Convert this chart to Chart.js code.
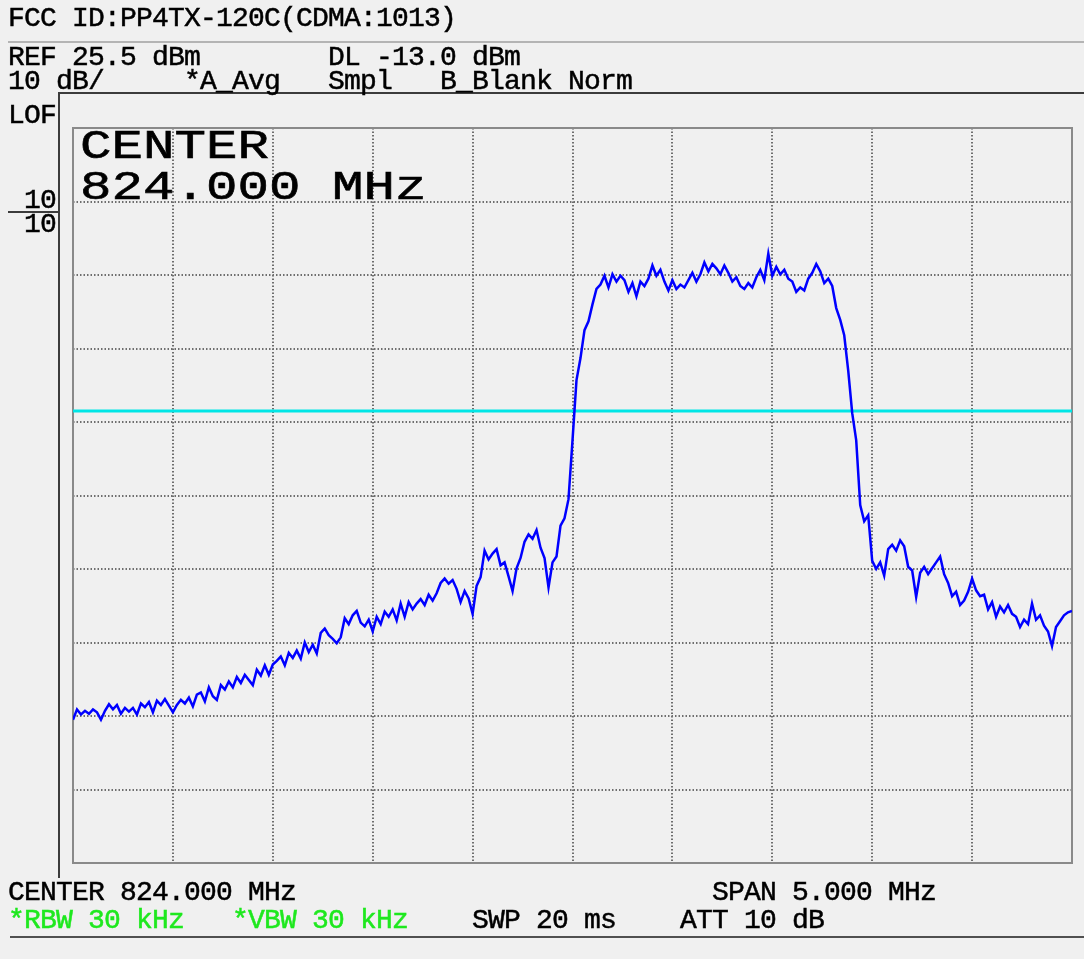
<!DOCTYPE html>
<html><head><meta charset="utf-8">
<script src="https://cdn.jsdelivr.net/npm/chart.js@4.4.1/dist/chart.umd.min.js"></script>
<style>
html,body{margin:0;padding:0;background:#f0f0f0;width:1084px;height:959px;overflow:hidden;}
#wrap{position:absolute;left:0;top:0;width:1084px;height:959px;}
canvas{position:absolute;left:0;top:0;}
.t{position:absolute;font-family:"Liberation Mono",monospace;font-size:28px;line-height:28px;color:#000;white-space:pre;letter-spacing:-0.8px;-webkit-text-stroke:0.5px #000;}
.g{color:#1ee81e;-webkit-text-stroke:0.5px #1ee81e;}
.big{position:absolute;font-family:"Liberation Mono",monospace;font-size:41px;line-height:41px;color:#000;white-space:pre;transform-origin:0 0;transform:scaleX(1.28);-webkit-text-stroke:0.6px #000;}
.ln{position:absolute;}
</style></head><body>
<div id="wrap">
<canvas id="c" width="1084" height="959"></canvas>

<div class="ln" style="left:8px;top:41px;width:1076px;height:2px;background:#b4b4b4;"></div>
<div class="ln" style="left:59px;top:92px;width:1025px;height:2px;background:#3c3c3c;"></div>
<div class="ln" style="left:58px;top:92px;width:2px;height:786px;background:#3c3c3c;"></div>
<div class="ln" style="left:8px;top:211px;width:51px;height:2px;background:#3c3c3c;"></div>
<div class="ln" style="left:10px;top:936px;width:1074px;height:2px;background:#505050;"></div>

<div class="t" style="left:8px;top:5px;">FCC ID:PP4TX-120C(CDMA:1013)</div>
<div class="t" style="left:8px;top:44px;">REF 25.5 dBm</div>
<div class="t" style="left:328px;top:44px;">DL -13.0 dBm</div>
<div class="t" style="left:8px;top:68px;">10 dB/</div>
<div class="t" style="left:184px;top:68px;">*A_Avg</div>
<div class="t" style="left:328px;top:68px;">Smpl</div>
<div class="t" style="left:440px;top:68px;">B_Blank Norm</div>
<div class="t" style="left:8px;top:102px;">LOF</div>
<div class="t" style="left:24px;top:187px;">10</div>
<div class="t" style="left:24px;top:211px;">10</div>

<div class="big" style="left:80px;top:127px;">CENTER</div>
<div class="big" style="left:80px;top:168px;">824.000 MHz</div>

<div class="t" style="left:8px;top:879px;">CENTER 824.000 MHz</div>
<div class="t" style="left:712px;top:879px;">SPAN 5.000 MHz</div>
<div class="t g" style="left:8px;top:907px;">*RBW 30 kHz</div>
<div class="t g" style="left:232px;top:907px;">*VBW 30 kHz</div>
<div class="t" style="left:472px;top:907px;">SWP 20 ms</div>
<div class="t" style="left:680px;top:907px;">ATT 10 dB</div>
</div>
<script>
// Sweep settings (MHz)
const sweepStartMHz = 821.5;
const sweepStopMHz = 826.5;
// Reference level and display line (dBm)
const refLevelDbm = 25.5;
const bottomLevelDbm = -74.5;
const displayLineDbm = -13.0;
// Grid (tick) positions
const freqGridMHz = [821.5, 822.0, 822.5, 823.0, 823.5, 824.0, 824.5, 825.0, 825.5, 826.0, 826.5];
const levelGridDbm = [-74.5, -64.5, -54.5, -44.5, -34.5, -24.5, -14.5, -4.5, 5.5, 15.5, 25.5];
// Trace A (average), dBm, equally spaced points across the span
const traceDbm = [
-55.0,-53.6,-54.3,-53.8,-54.2,-53.6,-54.0,-55.0,-53.8,-52.9,
-53.6,-53.0,-54.2,-53.4,-53.9,-53.4,-54.3,-52.8,-53.3,-52.6,
-54.0,-52.4,-53.0,-52.2,-53.1,-54.0,-53.0,-52.3,-52.8,-52.0,
-53.2,-51.6,-51.3,-52.5,-50.6,-51.8,-52.3,-50.3,-50.9,-49.8,
-50.6,-49.2,-50.0,-48.9,-49.6,-50.3,-48.2,-49.0,-47.6,-48.9,
-47.5,-47.0,-46.4,-47.6,-45.9,-46.6,-45.6,-46.7,-44.5,-45.8,
-44.8,-46.0,-43.2,-42.6,-43.5,-44.0,-44.6,-43.8,-41.2,-42.0,
-40.8,-40.2,-41.8,-42.3,-41.4,-43.0,-41.0,-42.0,-40.3,-41.0,
-40.0,-41.5,-39.2,-41.0,-39.0,-40.0,-39.2,-38.6,-39.4,-38.0,
-38.8,-37.8,-36.4,-35.8,-36.5,-36.0,-37.2,-39.0,-37.5,-38.5,
-40.6,-36.8,-35.6,-32.0,-33.2,-32.4,-31.8,-34.0,-33.6,-35.5,
-37.5,-34.4,-33.0,-30.8,-29.8,-30.4,-29.2,-31.6,-33.0,-37.0,
-33.6,-32.8,-28.6,-27.6,-25.0,-17.0,-8.8,-5.8,-2.0,-0.8,
1.5,3.6,4.2,5.4,3.8,5.6,4.6,5.4,4.8,3.2,
4.4,2.6,4.6,4.0,5.0,6.8,5.4,6.2,4.6,3.4,
4.8,3.6,4.2,3.8,4.8,5.8,4.6,5.6,7.2,6.0,
7.0,6.4,5.6,6.8,5.8,4.6,5.2,4.0,3.6,4.4,
3.8,5.2,6.2,4.8,8.4,5.4,6.6,5.6,6.2,5.0,
4.6,3.2,3.8,3.4,5.0,5.8,7.0,6.0,4.4,5.0,
4.0,1.0,-0.6,-2.7,-7.5,-13.3,-17.0,-25.8,-28.0,-27.2,
-33.4,-34.5,-33.6,-35.4,-31.8,-31.2,-32.0,-30.6,-31.4,-34.2,
-34.7,-38.3,-35.0,-34.2,-35.2,-34.4,-33.6,-32.8,-35.2,-36.4,
-38.2,-37.6,-39.4,-38.8,-37.6,-35.8,-37.4,-38.2,-38.0,-40.0,
-39.0,-41.0,-39.6,-40.4,-39.4,-40.6,-41.0,-42.4,-41.4,-42.0,
-39.2,-41.4,-40.8,-42.2,-43.0,-45.0,-42.4,-41.6,-40.8,-40.4,
-40.2
];

const stepMHz = (sweepStopMHz - sweepStartMHz) / (traceDbm.length - 1);
const tracePoints = traceDbm.map((v, i) => ({x: sweepStartMHz + i * stepMHz, y: v}));
const dlPoints = [{x: sweepStartMHz, y: displayLineDbm}, {x: sweepStopMHz, y: displayLineDbm}];

const boxPlugin = {
  id: 'box',
  beforeDatasetsDraw(chart) {
    const a = chart.chartArea, ctx = chart.ctx;
    ctx.save();
    ctx.strokeStyle = '#8a8a8a';
    ctx.lineWidth = 2;
    ctx.strokeRect(a.left, a.top, a.right - a.left, a.bottom - a.top);
    ctx.restore();
  }
};

const gridOpts = {
  display: true,
  drawTicks: false,
  color: '#6e6e6e',
  lineWidth: 2
};

new Chart(document.getElementById('c'), {
  type: 'line',
  data: {
    datasets: [
      {data: dlPoints, borderColor: '#00e6e6', borderWidth: 3, pointRadius: 0, order: 2},
      {data: tracePoints, borderColor: '#0000ff', borderWidth: 2.5, pointRadius: 0, tension: 0, order: 1}
    ]
  },
  options: {
    responsive: false,
    animation: false,
    devicePixelRatio: 1,
    layout: {padding: {left: 73, top: 128, right: 12, bottom: 96}},
    plugins: {legend: {display: false}, tooltip: {enabled: false}},
    scales: {
      x: {
        type: 'linear', min: sweepStartMHz, max: sweepStopMHz,
        afterBuildTicks: s => { s.ticks = freqGridMHz.map(v => ({value: v})); },
        ticks: {display: false},
        grid: gridOpts,
        border: {display: false, dash: [1.5, 2]}
      },
      y: {
        type: 'linear', min: bottomLevelDbm, max: refLevelDbm,
        afterBuildTicks: s => { s.ticks = levelGridDbm.map(v => ({value: v})); },
        ticks: {display: false},
        grid: gridOpts,
        border: {display: false, dash: [1.5, 2]}
      }
    }
  },
  plugins: [boxPlugin]
});
</script>
</body></html>
